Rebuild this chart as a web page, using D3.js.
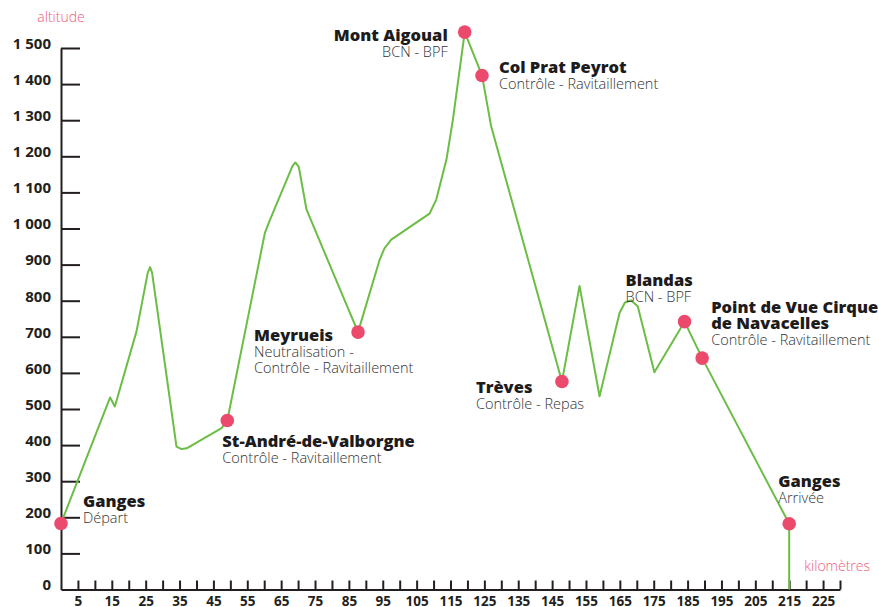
<!DOCTYPE html>
<html lang="fr">
<head>
  <meta charset="UTF-8" />
  <title>Profil altimétrique</title>
  <script src="https://d3js.org/d3.v7.min.js"></script>
  <style>
    body {
      margin: 0;
      background: #fff;
      font-family: "Open Sans", "DejaVu Sans", sans-serif;
    }
    .axis path, .axis line {
      stroke: #231f20;
      stroke-width: 2;
    }
    .axis text {
      fill: #231f20;
      font-weight: bold;
      font-family: "Open Sans", sans-serif;
    }
    .axis-title {
      fill: #ef5a7b;
      font-size: 14px;
      font-weight: 300;
    }
    .stop-name {
      font-weight: 800;
      font-size: 16.5px;
      fill: #1d1b1c;
    }
    .stop-info {
      font-size: 14.5px;
      font-weight: 300;
      fill: #333;
    }
  </style>
</head>
<body>
<svg id="chart"></svg>

<script>
// profile (km, altitude m)
const profileKm  = [0, 14.5, 15.9, 22.3, 25.6, 26.3, 26.9, 34.1, 35.6, 37.1, 47.4, 49.1,
                    60.2, 61.7, 68.3, 69.2, 70.2, 72.5, 87.7, 94.1, 95.5, 97.5, 108.8, 110.8,
                    113.8, 115.7, 119.2, 124.3, 127, 147.9, 153.1, 159, 164.9, 166.5, 168.3,
                    170.3, 175.2, 184.1, 189.3, 215];
const profileAlt = [183, 532, 507, 715, 877, 893, 877, 396, 389, 391, 447, 468,
                    988, 1024, 1172, 1183, 1171, 1052, 713, 914, 945, 969, 1041, 1080,
                    1191, 1301, 1544, 1424, 1283, 576, 841, 535, 766, 795, 801,
                    784, 602, 742, 641, 182];

// stops along the route
const stopKm   = [0, 49.1, 87.7, 119.2, 124.3, 147.9, 184.1, 189.3, 215];
const stopAlt  = [183, 468, 713, 1544, 1424, 576, 742, 641, 182];
const stopName = [["Ganges"], ["St-André-de-Valborgne"], ["Meyrueis"], ["Mont Aigoual"],
                  ["Col Prat Peyrot"], ["Trèves"], ["Blandas"],
                  ["Point de Vue Cirque", "de Navacelles"], ["Ganges"]];
const stopInfo = [["Départ"], ["Contrôle - Ravitaillement"],
                  ["Neutralisation -", "Contrôle - Ravitaillement"], ["BCN - BPF"],
                  ["Contrôle - Ravitaillement"], ["Contrôle - Repas"], ["BCN - BPF"],
                  ["Contrôle - Ravitaillement"], ["Arrivée"]];

// axes
const altTicks = [0, 100, 200, 300, 400, 500, 600, 700, 800, 900, 1000, 1100, 1200, 1300, 1400, 1500];
const kmLabels = [5, 15, 25, 35, 45, 55, 65, 75, 85, 95, 105, 115, 125, 135, 145, 155, 165, 175,
                  185, 195, 205, 215, 225];
const kmTicks = d3.range(5, 231, 5);

const width = 879, height = 607;
const svg = d3.select("#chart").attr("width", width).attr("height", height);

const x = d3.scaleLinear().domain([0, 230]).range([61, 840]);
const y = d3.scaleLinear().domain([0, 1500]).range([589.5, 48]);

const fmt = d3.formatLocale({decimal: ",", thousands: " ", grouping: [3], currency: ["", ""]}).format(",");

// y axis, ticks pointing inward
const yAxis = svg.append("g")
  .attr("class", "axis")
  .attr("transform", `translate(${x(0)},0)`)
  .call(d3.axisLeft(y).tickValues(altTicks).tickSize(-19).tickSizeOuter(0).tickPadding(10).tickFormat(fmt));
yAxis.selectAll(".tick text").attr("font-size", 15).attr("y", -4.5);
yAxis.selectAll(".tick").filter(d => d === 0).select("line").remove();

// x axis, ticks pointing up
const xAxis = svg.append("g")
  .attr("class", "axis")
  .attr("transform", `translate(0,${y(0)})`)
  .call(d3.axisBottom(x).tickValues(kmTicks).tickSize(-9).tickSizeOuter(0).tickPadding(7)
    .tickFormat(d => kmLabels.includes(d) ? d : ""));
xAxis.selectAll(".tick text").attr("font-size", 13.5);

svg.append("text").attr("class", "axis-title")
  .attr("x", 61).attr("y", 22).attr("text-anchor", "middle").text("altitude");
svg.append("text").attr("class", "axis-title")
  .attr("x", 870).attr("y", 571).attr("text-anchor", "end").text("kilomètres");

// profile line
const points = profileKm.map((k, i) => [k, profileAlt[i]]);
const line = d3.line().x(d => x(d[0])).y(d => y(d[1]));

svg.append("path")
  .attr("d", line(points))
  .attr("fill", "none")
  .attr("stroke", "#6cbd45")
  .attr("stroke-width", 2)
  .attr("stroke-linejoin", "round");

// drop to the axis at arrival
const last = points[points.length - 1];
svg.append("line")
  .attr("x1", x(last[0])).attr("x2", x(last[0]))
  .attr("y1", y(last[1])).attr("y2", y(0))
  .attr("stroke", "#6cbd45").attr("stroke-width", 2);

// label placement, pixel offsets from each stop marker
const labelLayout = [
  {dx: 22, dy: -16, anchor: "start"},
  {dx: -5, dy: 26, anchor: "start"},
  {dx: -104, dy: 9, anchor: "start"},
  {dx: -17, dy: 9, anchor: "end"},
  {dx: 17, dy: -2, anchor: "start"},
  {dx: -86, dy: 11, anchor: "start"},
  {dx: -59, dy: -36, anchor: "start"},
  {dx: 9, dy: -45, anchor: "start"},
  {dx: -11, dy: -37, anchor: "start"}
];
const lineGap = 16;

const stops = stopKm.map((k, i) => ({km: k, alt: stopAlt[i], name: stopName[i], info: stopInfo[i], lay: labelLayout[i]}));

const labels = svg.append("g").selectAll("g")
  .data(stops)
  .enter().append("g")
  .attr("transform", d => `translate(${x(d.km) + d.lay.dx},${y(d.alt) + d.lay.dy})`)
  .attr("text-anchor", d => d.lay.anchor);

labels.each(function(d) {
  const g = d3.select(this);
  d.name.forEach((t, j) => {
    g.append("text").attr("class", "stop-name").attr("y", j * lineGap).text(t);
  });
  d.info.forEach((t, j) => {
    g.append("text").attr("class", "stop-info").attr("y", (d.name.length + j) * lineGap).text(t);
  });
});

svg.append("g").selectAll("circle")
  .data(stops)
  .enter().append("circle")
  .attr("cx", d => x(d.km))
  .attr("cy", d => y(d.alt))
  .attr("r", 6.8)
  .attr("fill", "#ec4a6c");
</script>
</body>
</html>
